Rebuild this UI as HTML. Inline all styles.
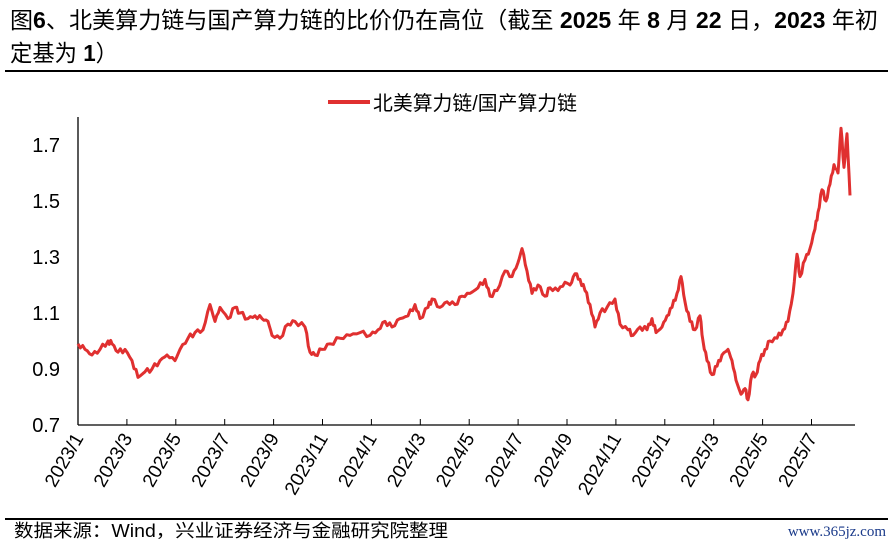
<!DOCTYPE html>
<html><head><meta charset="utf-8"><style>
body{margin:0;width:890px;height:544px;background:#fff;overflow:hidden;font-family:"Liberation Sans","Noto Sans CJK SC",sans-serif;}
</style></head><body>
<svg width="890" height="544" xmlns="http://www.w3.org/2000/svg" style="position:absolute;left:0;top:0">
<g font-family="Liberation Sans, Noto Sans CJK SC, sans-serif" fill="#000">
<text x="10" y="28" font-size="23" textLength="868" lengthAdjust="spacingAndGlyphs">图<tspan font-weight="bold">6</tspan>、北美算力链与国产算力链的比价仍在高位（截至 <tspan font-weight="bold">2025</tspan> 年 <tspan font-weight="bold">8</tspan> 月 <tspan font-weight="bold">22</tspan> 日，<tspan font-weight="bold">2023</tspan> 年初</text>
<text x="10" y="61" font-size="23" textLength="108" lengthAdjust="spacingAndGlyphs">定基为 <tspan font-weight="bold">1</tspan>）</text>
</g>
<line x1="5" y1="71" x2="888" y2="71" stroke="#000" stroke-width="2"/>
<line x1="328" y1="102" x2="370" y2="102" stroke="#e03030" stroke-width="4"/>
<text x="373" y="110" font-size="20" textLength="204" lengthAdjust="spacingAndGlyphs" font-family="Liberation Sans, Noto Sans CJK SC, sans-serif">北美算力链/国产算力链</text>
<line x1="78" y1="117" x2="78" y2="425" stroke="#000" stroke-width="1.3"/>
<line x1="78" y1="425" x2="855" y2="425" stroke="#000" stroke-width="1.3"/>
<g font-size="20" text-anchor="end" font-family="Liberation Sans, sans-serif">
<text x="60" y="152">1.7</text><text x="60" y="208">1.5</text><text x="60" y="264">1.3</text><text x="60" y="320">1.1</text><text x="60" y="376">0.9</text><text x="60" y="432">0.7</text>
</g>
<g id="ticks" stroke="#000" stroke-width="1"></g>
<g id="xl" font-size="19" font-family="Liberation Sans, sans-serif" text-anchor="end"></g>
<path id="ln" fill="none" stroke="#e03030" stroke-width="3" stroke-linejoin="round"/>
<line x1="5" y1="519" x2="888" y2="519" stroke="#000" stroke-width="2"/>
<text x="14" y="537" font-size="18" textLength="434" lengthAdjust="spacingAndGlyphs" font-family="Liberation Sans, Noto Sans CJK SC, sans-serif">数据来源：Wind，兴业证券经济与金融研究院整理</text>
<text x="886" y="536" font-size="15" text-anchor="end" fill="#1a3a8a" font-family="Liberation Serif, serif">www.365jz.com</text>
</svg>
<script>
var t=document.getElementById('ticks'),xl=document.getElementById('xl'),ns='http://www.w3.org/2000/svg';
var labs=['2023/1','2023/3','2023/5','2023/7','2023/9','2023/11','2024/1','2024/3','2024/5','2024/7','2024/9','2024/11','2025/1','2025/3','2025/5','2025/7'];
for(var i=0;i<labs.length;i++){var x=78+i*48.9;
if(i>0){var l=document.createElementNS(ns,'line');l.setAttribute('x1',x);l.setAttribute('x2',x);l.setAttribute('y1',419);l.setAttribute('y2',425);t.appendChild(l);}
var tx=document.createElementNS(ns,'text');tx.setAttribute('transform','translate('+(x+6)+',438) rotate(-60)');tx.textContent=labs[i];xl.appendChild(tx);}
var p=[78,.99,85,.97,92,.95,100,.97,108,1.0,112,.99,118,.96,125,.97,132,.93,138,.87,145,.89,152,.90,160,.93,167,.95,175,.93,180,.97,188,1.01,195,1.03,203,1.04,210,1.13,215,1.07,220,1.12,228,1.08,235,1.12,240,1.10,248,1.08,255,1.09,262,1.08,268,1.07,272,1.02,280,1.01,288,1.06,295,1.07,305,1.05,310,.96,315,.95,322,.97,330,.99,340,1.01,350,1.02,360,1.03,370,1.02,378,1.04,385,1.07,392,1.05,400,1.08,408,1.09,415,1.13,420,1.08,428,1.12,432,1.15,440,1.12,447,1.14,455,1.13,462,1.16,470,1.17,478,1.19,485,1.22,490,1.16,497,1.18,505,1.25,512,1.23,518,1.28,522,1.33,527,1.25,532,1.17,538,1.20,545,1.16,550,1.19,558,1.18,565,1.21,570,1.20,575,1.24,580,1.22,585,1.18,590,1.13,595,1.05,600,1.10,607,1.12,615,1.15,620,1.06,628,1.04,633,1.02,640,1.05,647,1.04,652,1.08,656,1.03,662,1.05,667,1.09,672,1.12,677,1.17,681,1.23,685,1.14,690,1.07,695,1.04,700,1.09,703,1.0,707,.93,712,.88,717,.91,722,.95,728,.97,732,.93,736,.86,741,.81,745,.83,748,.79,752,.88,756,.88,760,.93,765,.97,770,1.0,777,1.01,783,1.04,788,1.07,793,1.17,797,1.31,800,1.23,805,1.29,810,1.33,815,1.40,818,1.46,822,1.54,826,1.50,830,1.56,834,1.63,838,1.60,841,1.76,844,1.62,847,1.74,850,1.52];
var d='';for(var i=0;i<p.length;i+=2){var x=p[i],y=425-(p[i+1]-0.7)*280;
if(i>0){var px=p[i-2],py=425-(p[i-1]-0.7)*280;for(var k=1;k<3;k++){var f=k/3;d+='L'+(px+(x-px)*f).toFixed(1)+' '+(py+(y-py)*f+(Math.sin(x*7+k*3)*2.5)).toFixed(1);}}
d+=(i?'L':'M')+x+' '+y.toFixed(1);}
document.getElementById('ln').setAttribute('d',d);
</script>
</body></html>
